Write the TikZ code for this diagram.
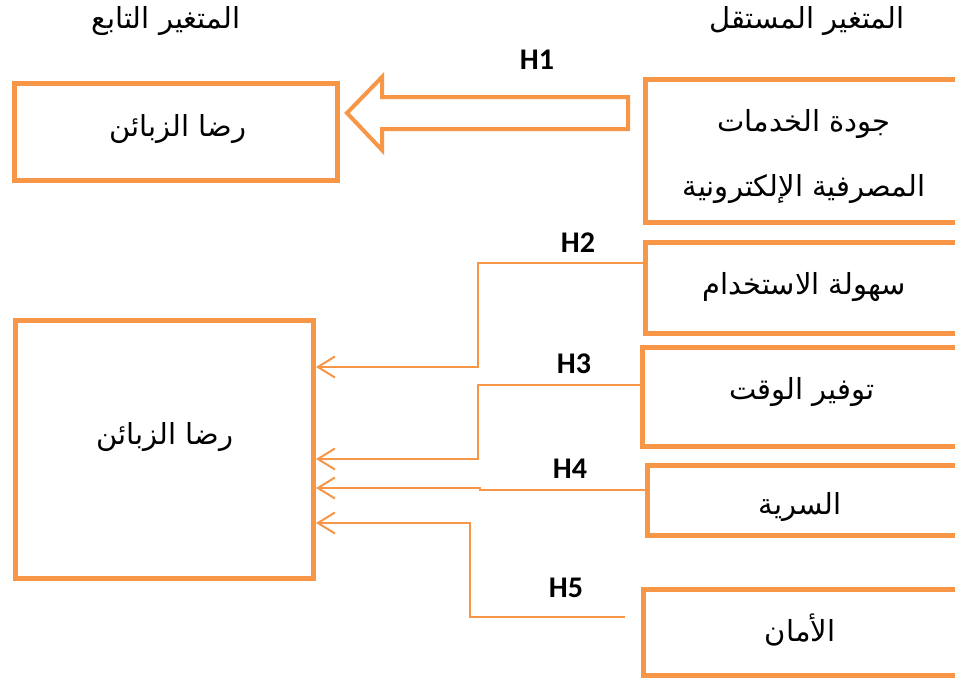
\documentclass[tikz,border=0pt]{standalone}
\usepackage{fontspec}
\usetikzlibrary{arrows.meta}
\setmainfont{Carlito}
\newfontfamily\arabicfont[Script=Arabic]{DejaVu Sans}
\TeXXeTstate=1
\definecolor{accorange}{HTML}{F79646}
\tikzset{
  box/.style={draw=accorange, line width=5, rectangle, inner sep=0pt, fill=white},
  artext/.style={font=\arabicfont\fontsize{29}{65}\selectfont, align=center, text=black},
  hlabel/.style={font=\fontsize{30}{32}\selectfont\bfseries, text=black},
  conn/.style={draw=accorange, line width=2, -{Straight Barb[length=17,width=21,line width=2]}},
  blockarrow/.style={draw=accorange, line width=4, line join=miter},
}
\begin{document}
\begin{tikzpicture}[x=1pt,y=-1pt]
\useasboundingbox (0,0) rectangle (955,680);
\clip (0,0) rectangle (955,680);
\fill[white] (0,0) rectangle (955,680);

% headers
\node[artext] (hdep) at (166,21) {\beginR المتغير التابع\endR};
\node[artext] (hind) at (807,21) {\beginR المتغير المستقل\endR};

% left boxes
\node[box, minimum width=323, minimum height=97] (l1) at (176,132) {};
\node[artext] (l1t) at (178,129) {\beginR رضا الزبائن\endR};
\node[box, minimum width=298, minimum height=258] (l2) at (164.5,449.5) {};
\node[artext] (l2t) at (165,437) {\beginR رضا الزبائن\endR};

% right boxes
\node[box, minimum width=316.5, minimum height=143] (r1) at (803.75,150.5) {};
\node[artext] (r1t) at (804,157) {\beginR جودة الخدمات\endR\\\beginR المصرفية الإلكترونية\endR};
\node[box, minimum width=316.5, minimum height=90.5] (r2) at (803.75,287.75) {};
\node[artext] (r2t) at (804,287) {\beginR سهولة الاستخدام\endR};
\node[box, minimum width=319.5, minimum height=98.5] (r3) at (802.25,396.75) {};
\node[artext] (r3t) at (802,392) {\beginR توفير الوقت\endR};
\node[box, minimum width=314.5, minimum height=69.5] (r4) at (804.75,500.25) {};
\node[artext] (r4t) at (800,507) {\beginR السرية\endR};
\node[box, minimum width=318.5, minimum height=85.5] (r5) at (802.75,632.25) {};
\node[artext] (r5t) at (800,630) {\beginR الأمان\endR};

% H1 block arrow
\draw[blockarrow] (628,97) -- (382,97) -- (382,77) -- (347,113) -- (382,150) -- (382,129) -- (628,129) -- cycle;
\node[hlabel] (h1) at (537,60) {H1};

% helper coordinates
\coordinate (y2a) at (0,263);
\coordinate (y2b) at (0,367);
\coordinate (y3a) at (0,385);
\coordinate (y3b) at (0,459);
\coordinate (y4a) at (0,490);
\coordinate (y4b) at (0,488);
\coordinate (y5) at (0,523);
\coordinate (h5s) at (625,617);

% connectors
\draw[conn] (r2.west |- y2a) -- (478,263) -- (478,367) -- (l2.east |- y2b);
\draw[conn] (r3.west |- y3a) -- (478,385) -- (478,459) -- (l2.east |- y3b);
\draw[conn] (r4.west |- y4a) -- (480,490) -- (480,488) -- (l2.east |- y4b);
\draw[conn] (h5s) -- (470,617) -- (470,523) -- (l2.east |- y5);

\node[hlabel] (h2) at (578,243) {H2};
\node[hlabel] (h3) at (574,364) {H3};
\node[hlabel] (h4) at (570,469) {H4};
\node[hlabel] (h5) at (566,588) {H5};
\end{tikzpicture}
\end{document}
